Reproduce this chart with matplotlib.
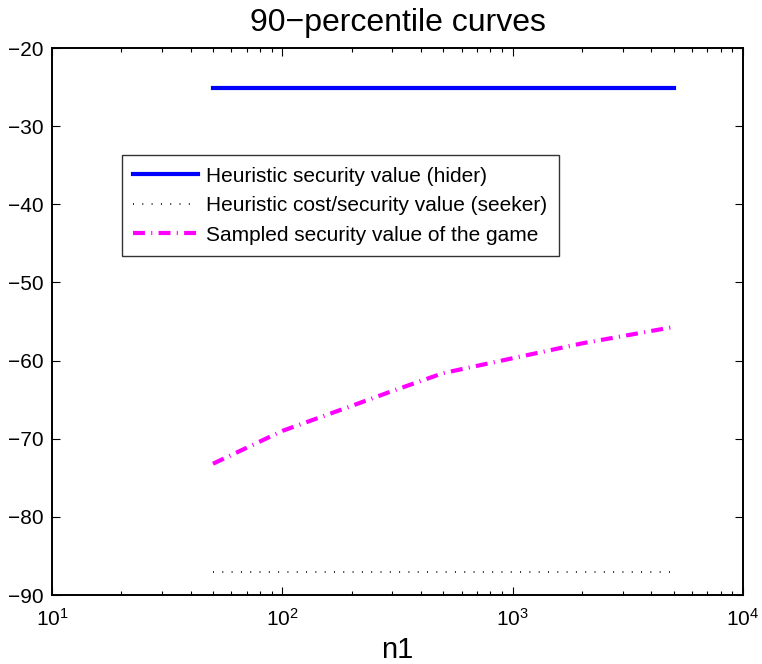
import matplotlib
matplotlib.use("Agg")
import matplotlib.pyplot as plt
from matplotlib.ticker import LogLocator, FixedLocator

plt.rcParams['font.family'] = ['Liberation Sans', 'DejaVu Sans']
plt.rcParams['mathtext.fontset'] = 'custom'
plt.rcParams['mathtext.rm'] = 'Liberation Sans'
plt.rcParams['lines.scale_dashes'] = False

# data
n1 = [50, 100, 200, 300, 500, 1000, 2000, 5000]
hider = [-25.1] * len(n1)
seeker = [-87.1] * len(n1)
sampled = [-73.2, -69.0, -65.8, -63.9, -61.6, -59.7, -57.8, -55.7]

labels = ["Heuristic security value (hider)",
          "Heuristic cost/security value (seeker)",
          "Sampled security value of the game"]

fig = plt.figure(figsize=(7.62, 6.64), dpi=100)
ax = fig.add_axes([0.0682, 0.1039, 0.9068, 0.8238])

ax.plot(n1, hider, color='#0000ff', lw=3, label=labels[0])
ax.plot(n1, seeker, color='black', lw=1.2, dashes=(0.7, 6.0), label=labels[1])
ax.plot(n1, sampled, color='#ff00ff', lw=3, dashes=(8.6, 4.5, 0.8, 4.5), label=labels[2])

ax.set_xscale('log')
ax.set_xlim(10, 10000)
ax.set_ylim(-90, -20)
ax.yaxis.set_major_locator(FixedLocator(list(range(-90, -19, 10))))
ax.xaxis.set_major_locator(LogLocator(base=10, numticks=10))
ax.xaxis.set_minor_locator(LogLocator(base=10, subs=range(2, 10), numticks=20))

ax.tick_params(which='both', direction='in', top=True, right=True, width=0.8)
ax.tick_params(which='major', length=6)
ax.tick_params(which='minor', length=3)
ax.tick_params(axis='y', labelsize=15, pad=6)
ax.tick_params(axis='x', labelsize=15, pad=9)
for s in ax.spines.values():
    s.set_linewidth(1.4)

ax.set_title("90\u2212percentile curves", fontsize=23, pad=12)
ax.set_xlabel("n1", fontsize=21, labelpad=5)

leg = ax.legend(loc='upper left', bbox_to_anchor=(0.101, 0.804), borderaxespad=0,
                fontsize=15, frameon=True, fancybox=False, edgecolor='black',
                handlelength=3.1, handletextpad=0.4, labelspacing=0.5,
                borderpad=0.55)
leg.get_frame().set_linewidth(1.0)

fig.savefig("out.png", dpi=100)
